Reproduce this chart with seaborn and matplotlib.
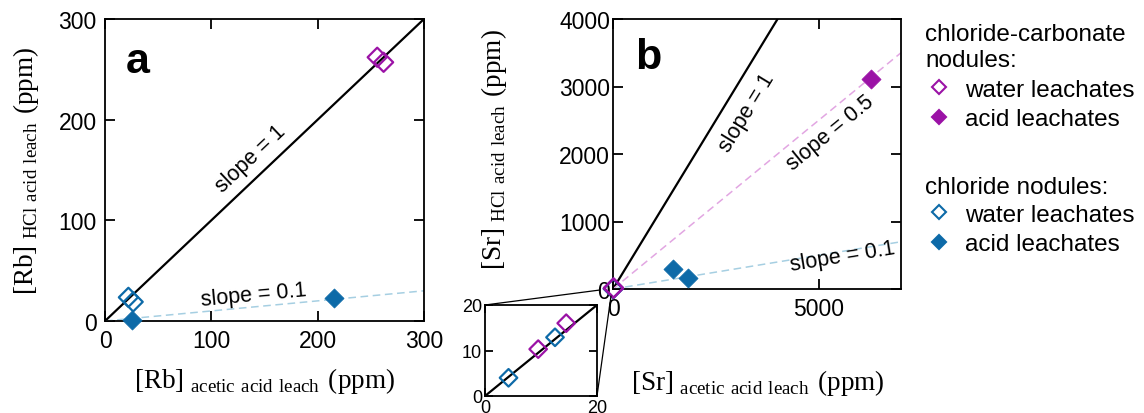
import numpy as np
import pandas as pd
import matplotlib
matplotlib.use('Agg')
import matplotlib.pyplot as plt
from matplotlib.lines import Line2D
import seaborn as sns

# --- data ---
# panel a: Rb (ppm)
rb_cc_water_x = [256, 262]
rb_cc_water_y = [262, 257]
rb_cl_water_x = [22, 26.5]
rb_cl_water_y = [23.5, 19]
rb_cl_acid_x = [25, 215]
rb_cl_acid_y = [0.5, 22.5]

# panel b: Sr (ppm)
sr_cc_water_x = [9.5, 14.5]
sr_cc_water_y = [10.3, 16.0]
sr_cl_water_x = [4.2, 12.5]
sr_cl_water_y = [4.0, 12.9]
sr_cc_acid_x = [6280]
sr_cc_acid_y = [3110]
sr_cl_acid_x = [1460, 1830]
sr_cl_acid_y = [290, 160]

slopes_a = [1, 0.1]
slopes_b = [1, 0.5, 0.1]

PURPLE = '#9b12a6'
BLUE = '#0d6aa8'
LINE_COLORS = {1: 'black', 0.5: '#e2a6e2', 0.1: '#a6cfe2'}

sns.set_style('ticks')
plt.rcParams['font.family'] = ['Liberation Sans', 'DejaVu Sans']
plt.rcParams['mathtext.fontset'] = 'custom'
plt.rcParams['mathtext.rm'] = 'Liberation Serif'
plt.rcParams['axes.linewidth'] = 1.3
for k in ['text.color', 'axes.labelcolor', 'xtick.color', 'ytick.color', 'axes.edgecolor']:
    plt.rcParams[k] = 'black'

W, H = 1144, 414
fig = plt.figure(figsize=(W / 100, H / 100), dpi=100)


def px_axes(left, top, right, bottom):
    return fig.add_axes([left / W, 1 - bottom / H, (right - left) / W, (bottom - top) / H])


ax_a = px_axes(105, 20, 424, 322)
ax_b = px_axes(613, 20, 901, 290)
ax_in = px_axes(485, 306, 597, 397)


def points(ax, x, y, color, hollow, s=95):
    df = pd.DataFrame({'x': x, 'y': y})
    if hollow:
        sns.scatterplot(data=df, x='x', y='y', ax=ax, marker='D', s=s, color=color,
                        facecolor='none', edgecolor=color, linewidth=1.6, zorder=5, clip_on=False)
    else:
        sns.scatterplot(data=df, x='x', y='y', ax=ax, marker='D', s=s, color=color,
                        edgecolor=color, linewidth=0.5, zorder=5, clip_on=False)


def slope_line(ax, slope):
    c = LINE_COLORS[slope]
    ls = '-' if slope == 1 else (0, (5, 3))
    ax.axline((0, 0), slope=slope, color=c, lw=1.6 if slope == 1 else 1.1, ls=ls, zorder=2)


def slope_label(ax, slope, x, y):
    p0 = ax.transData.transform((0, 0))
    p1 = ax.transData.transform((1, slope))
    ang = np.degrees(np.arctan2(p1[1] - p0[1], p1[0] - p0[0]))
    ax.text(x, y, f'slope = {slope:g}', rotation=ang, rotation_mode='anchor',
            ha='center', va='center', fontsize=15.5)


def style(ax, fs=16.5, length=7):
    ax.tick_params(direction='in', top=True, right=True, length=length, width=1.3,
                   labelsize=fs, pad=6)
    ax.set_xlabel('')
    ax.set_ylabel('')


# ---- panel a ----
ax_a.set_xlim(0, 300)
ax_a.set_ylim(0, 300)
for sl in slopes_a:
    slope_line(ax_a, sl)
points(ax_a, rb_cc_water_x, rb_cc_water_y, PURPLE, True)
points(ax_a, rb_cl_water_x, rb_cl_water_y, BLUE, True)
points(ax_a, rb_cl_acid_x, rb_cl_acid_y, BLUE, False)
style(ax_a)
ax_a.set_xticks([0, 100, 200, 300])
ax_a.set_yticks([0, 100, 200, 300])
slope_label(ax_a, 1, 137, 162)
slope_label(ax_a, 0.1, 140, 26)
ax_a.text(0.103, 0.86, 'a', transform=ax_a.transAxes, fontsize=31, fontweight='bold',
          ha='center', va='center')
ax_a.set_xlabel(r'$\mathrm{[Rb]}_{\mathrm{\ acetic\ acid\ leach}}\ \mathrm{(ppm)}$', fontsize=19.5)
ax_a.set_ylabel(r'$\mathrm{[Rb]}_{\mathrm{\ HCl\ acid\ leach}}\ \mathrm{(ppm)}$', fontsize=19.5)
ax_a.xaxis.set_label_coords(0.5, -0.145)
ax_a.yaxis.set_label_coords(-0.2, 0.5)

# ---- panel b ----
ax_b.set_xlim(0, 7000)
ax_b.set_ylim(0, 4000)
for sl in slopes_b:
    slope_line(ax_b, sl)
points(ax_b, sr_cl_water_x, sr_cl_water_y, BLUE, True)
points(ax_b, sr_cc_water_x, sr_cc_water_y, PURPLE, True)
points(ax_b, sr_cc_acid_x, sr_cc_acid_y, PURPLE, False)
points(ax_b, sr_cl_acid_x, sr_cl_acid_y, BLUE, False)
style(ax_b)
ax_b.set_xticks([0, 5000])
ax_b.set_yticks([0, 1000, 2000, 3000, 4000])
ax_b.tick_params(axis='y', pad=2)
slope_label(ax_b, 1, 3250, 2620)
slope_label(ax_b, 0.5, 5270, 2320)
slope_label(ax_b, 0.1, 5590, 490)
ax_b.text(0.122, 0.86, 'b', transform=ax_b.transAxes, fontsize=31, fontweight='bold',
          ha='center', va='center')
ax_b.set_xlabel(r'$\mathrm{[Sr]}_{\mathrm{\ acetic\ acid\ leach}}\ \mathrm{(ppm)}$', fontsize=19.5)
ax_b.set_ylabel(r'$\mathrm{[Sr]}_{\mathrm{\ HCl\ acid\ leach}}\ \mathrm{(ppm)}$', fontsize=19.5)
ax_b.xaxis.set_label_coords(0.503, -0.29)
ax_b.yaxis.set_label_coords(-0.36, 0.52)

# ---- inset (zoom on origin of b) ----
ax_in.set_xlim(0, 20)
ax_in.set_ylim(0, 20)
slope_line(ax_in, 1)
points(ax_in, sr_cl_water_x, sr_cl_water_y, BLUE, True, s=80)
points(ax_in, sr_cc_water_x, sr_cc_water_y, PURPLE, True, s=80)
style(ax_in, fs=13, length=6)
ax_in.set_xticks([0, 20])
ax_in.set_yticks([0, 10, 20])
ax_in.tick_params(pad=2)

for (x0, y0), (x1, y1) in [((485, 306), (600, 291)), ((597, 397), (611, 297))]:
    fig.add_artist(Line2D([x0 / W, x1 / W], [1 - y0 / H, 1 - y1 / H], color='black',
                          lw=0.9, transform=fig.transFigure))

# ---- legend ----
def mk(color, hollow):
    return Line2D([], [], ls='none', marker='D', ms=7.5, mew=1.5, color=color,
                  markerfacecolor='none' if hollow else color)

leg_kw = dict(frameon=False, fontsize=17.5, title_fontsize=17.5, alignment='left',
              handletextpad=0.55, labelspacing=0.3, borderpad=0, handlelength=1.1)
leg1 = fig.legend([mk(PURPLE, True), mk(PURPLE, False)], ['water leachates', 'acid leachates'],
                  title='chloride-carbonate\nnodules:', loc='upper left',
                  bbox_to_anchor=(913 / W, 1 - 12 / H), **leg_kw)
leg2 = fig.legend([mk(BLUE, True), mk(BLUE, False)], ['water leachates', 'acid leachates'],
                  title='chloride nodules:', loc='upper left',
                  bbox_to_anchor=(913 / W, 1 - 165 / H), **leg_kw)
leg1._legend_box.sep = 6
leg2._legend_box.sep = 4

fig.savefig('out.png', dpi=100)
